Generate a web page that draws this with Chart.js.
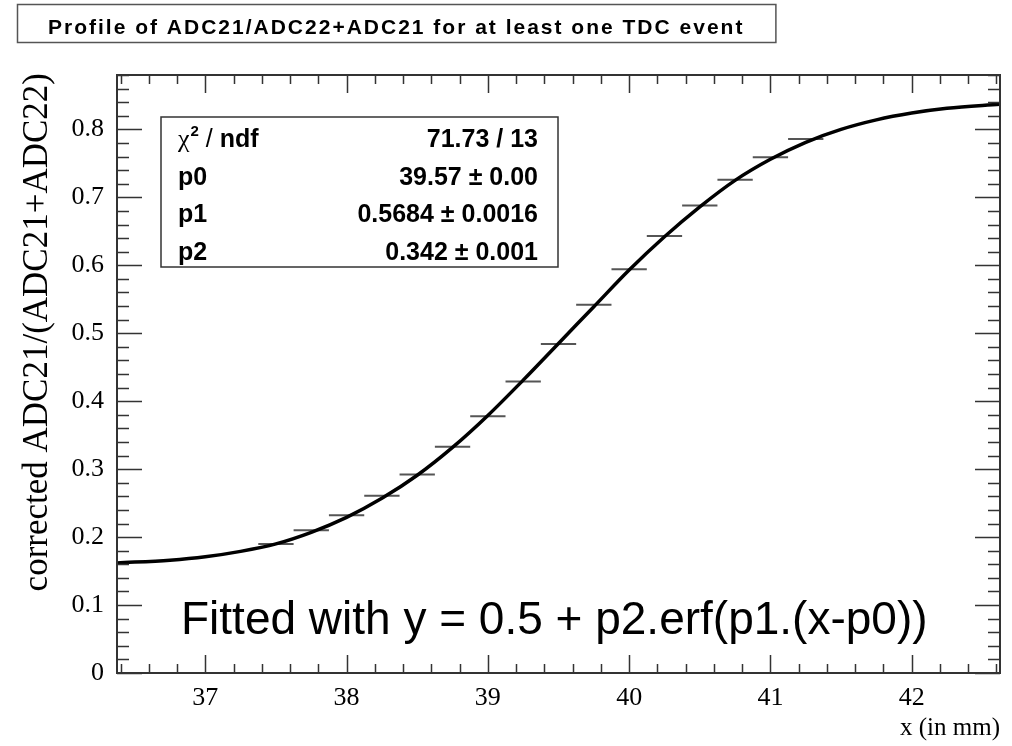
<!DOCTYPE html>
<html>
<head>
<meta charset="utf-8">
<script src="https://cdn.jsdelivr.net/npm/chart.js@4"></script>
<style>
  body { margin: 0; background: #fff; }
  canvas { display: block; }
</style>
</head>
<body>
<canvas id="grafico" width="1012" height="746"></canvas>
<script>
// profile points (bin centres, mean of ADC21/(ADC21+ADC22))
const binCenters = [37.5, 37.75, 38, 38.25, 38.5, 38.75, 39, 39.25, 39.5, 39.75, 40, 40.25, 40.5, 40.75, 41, 41.25];
const profileMeans = [0.190, 0.210, 0.232, 0.261, 0.292, 0.333, 0.378, 0.429, 0.484, 0.542, 0.594, 0.643, 0.688, 0.726, 0.759, 0.786];
const binWidth = 0.25;

// fitted curve
const fitX = [36.375, 36.75, 37, 37.25, 37.5, 37.75, 38, 38.25, 38.5, 38.75, 39, 39.25, 39.5, 39.75, 40, 40.25, 40.5, 40.75, 41, 41.25, 41.5, 41.75, 42, 42.25, 42.625];
const fitY = [0.162, 0.166, 0.171, 0.179, 0.190, 0.207, 0.229, 0.257, 0.291, 0.332, 0.379, 0.431, 0.485, 0.539, 0.593, 0.642, 0.686, 0.725, 0.756, 0.781, 0.800, 0.814, 0.824, 0.831, 0.837];

const xTicks = [37, 38, 39, 40, 41, 42];
const yTicks = [0, 0.1, 0.2, 0.3, 0.4, 0.5, 0.6, 0.7, 0.8];

const chartTitle = 'Profile of ADC21/ADC22+ADC21 for at least one TDC event';
const xTitle = 'x (in mm)';
const yTitle = 'corrected ADC21/(ADC21+ADC22)';
const statLabels = ['ndf', 'p0', 'p1', 'p2'];
const statValues = ['71.73 / 13', '39.57 \u00b1 0.00', '0.5684 \u00b1 0.0016', '0.342 \u00b1 0.001'];
const fitText = 'Fitted with y = 0.5 + p2.erf(p1.(x-p0))';

const serif = '"Liberation Serif", "DejaVu Serif", serif';
const sans = '"Liberation Sans", Arial, sans-serif';

const rootStyle = {
    id: 'rootStyle',
    afterDraw(chart) {
        const c = chart.ctx;
        const a = chart.chartArea;
        const xs = chart.scales.x;
        const ys = chart.scales.y;
        c.save();

        // ticks inside the frame, all four sides
        c.strokeStyle = '#333';
        c.lineWidth = 1.5;
        c.beginPath();
        for (let i = 0; i <= 31; i++) {
            const v = 36.4 + i * 0.2;
            const px = Math.round(xs.getPixelForValue(v)) + 0.5;
            const major = Math.abs(v - Math.round(v)) < 1e-6;
            const len = major ? 18 : 9;
            c.moveTo(px, a.bottom); c.lineTo(px, a.bottom - len);
            c.moveTo(px, a.top); c.lineTo(px, a.top + len);
        }
        for (let i = 0; i <= 44; i++) {
            const v = i * 0.02;
            const py = Math.round(ys.getPixelForValue(v)) + 0.5;
            const len = (i % 5 === 0) ? 25 : 12;
            c.moveTo(a.left, py); c.lineTo(a.left + len, py);
            c.moveTo(a.right, py); c.lineTo(a.right - len, py);
        }
        c.stroke();

        // frame
        c.lineWidth = 2;
        c.strokeRect(a.left, a.top, a.right - a.left, a.bottom - a.top);

        // title box
        c.font = 'bold 21px ' + sans;
        c.letterSpacing = '2px';
        const tw = c.measureText(chartTitle).width;
        c.fillStyle = '#fff';
        c.fillRect(17, 4, tw + 62, 38);
        c.strokeStyle = '#555';
        c.lineWidth = 1.5;
        c.strokeRect(17.5, 4.5, tw + 62, 38);
        c.fillStyle = '#000';
        c.textBaseline = 'alphabetic';
        c.textAlign = 'left';
        c.fillText(chartTitle, 48, 34);
        c.letterSpacing = '0px';

        // stats box
        c.fillStyle = '#fff';
        c.fillRect(161, 117, 397, 150);
        c.strokeStyle = '#333';
        c.lineWidth = 1.5;
        c.strokeRect(161, 117, 397, 150);
        c.fillStyle = '#000';
        for (let i = 0; i < statLabels.length; i++) {
            const by = 147 + i * 37.7;
            c.textAlign = 'left';
            if (i === 0) {
                c.font = '26px ' + serif;
                c.fillText('\u03c7', 178, by);
                let w = c.measureText('\u03c7').width;
                c.font = 'bold 15px ' + sans;
                c.fillText('2', 178 + w + 1, by - 11);
                w += 1 + c.measureText('2').width;
                c.font = '25px ' + sans;
                c.fillText(' /', 178 + w, by);
                w += c.measureText(' /').width;
                c.font = 'bold 25px ' + sans;
                c.fillText(' ' + statLabels[0], 178 + w, by);
            } else {
                c.font = 'bold 25px ' + sans;
                c.fillText(statLabels[i], 178, by);
            }
            c.font = 'bold 25px ' + sans;
            c.textAlign = 'right';
            c.fillText(statValues[i], 538, by);
        }

        // fit description
        c.font = '46px ' + sans;
        c.textAlign = 'left';
        c.fillText(fitText, 181, 634);

        // axis titles
        c.font = '25px ' + serif;
        c.textAlign = 'right';
        c.fillText(xTitle, 1000, 735);

        c.translate(47, 73);
        c.rotate(-Math.PI / 2);
        c.font = '35px ' + serif;
        c.textAlign = 'right';
        c.fillText(yTitle, 0, 0);

        c.restore();
    }
};

const ctx = document.getElementById('grafico');

new Chart(ctx, {
    type: 'scatter',
    data: {
        datasets: [{
            label: 'fit',
            data: fitX.map((x, i) => ({ x: x, y: fitY[i] })),
            showLine: true,
            borderColor: '#000',
            borderWidth: 3.5,
            pointRadius: 0,
            cubicInterpolationMode: 'monotone'
        }, {
            label: 'profile',
            data: binCenters.map((x, i) => ({ x: x, y: profileMeans[i] })),
            showLine: false,
            pointStyle: 'line',
            borderColor: '#555',
            borderWidth: 2,
            pointRadius: (p) => {
                const xs = p.chart.scales.x;
                return Math.abs(xs.getPixelForValue(binWidth / 2) - xs.getPixelForValue(0));
            }
        }]
    },
    options: {
        responsive: false,
        animation: false,
        layout: { padding: { top: 75, right: 12, left: 0, bottom: 0 } },
        plugins: { legend: { display: false }, tooltip: { enabled: false } },
        scales: {
            x: {
                type: 'linear',
                min: 36.375,
                max: 42.625,
                grid: { display: false },
                border: { display: false },
                afterBuildTicks: (axis) => { axis.ticks = xTicks.map(v => ({ value: v })); },
                afterFit: (axis) => { axis.height = 73; },
                ticks: {
                    color: '#000',
                    padding: 2,
                    maxRotation: 0,
                    font: { family: serif, size: 26 },
                    callback: (v) => String(v)
                }
            },
            y: {
                type: 'linear',
                min: 0,
                max: 0.88,
                grid: { display: false },
                border: { display: false },
                afterBuildTicks: (axis) => { axis.ticks = yTicks.map(v => ({ value: v })); },
                afterFit: (axis) => { axis.width = 117; },
                ticks: {
                    color: '#000',
                    padding: 5,
                    font: { family: serif, size: 26 },
                    callback: (v) => v === 0 ? '0' : v.toFixed(1)
                }
            }
        }
    },
    plugins: [rootStyle]
});
</script>
</body>
</html>
